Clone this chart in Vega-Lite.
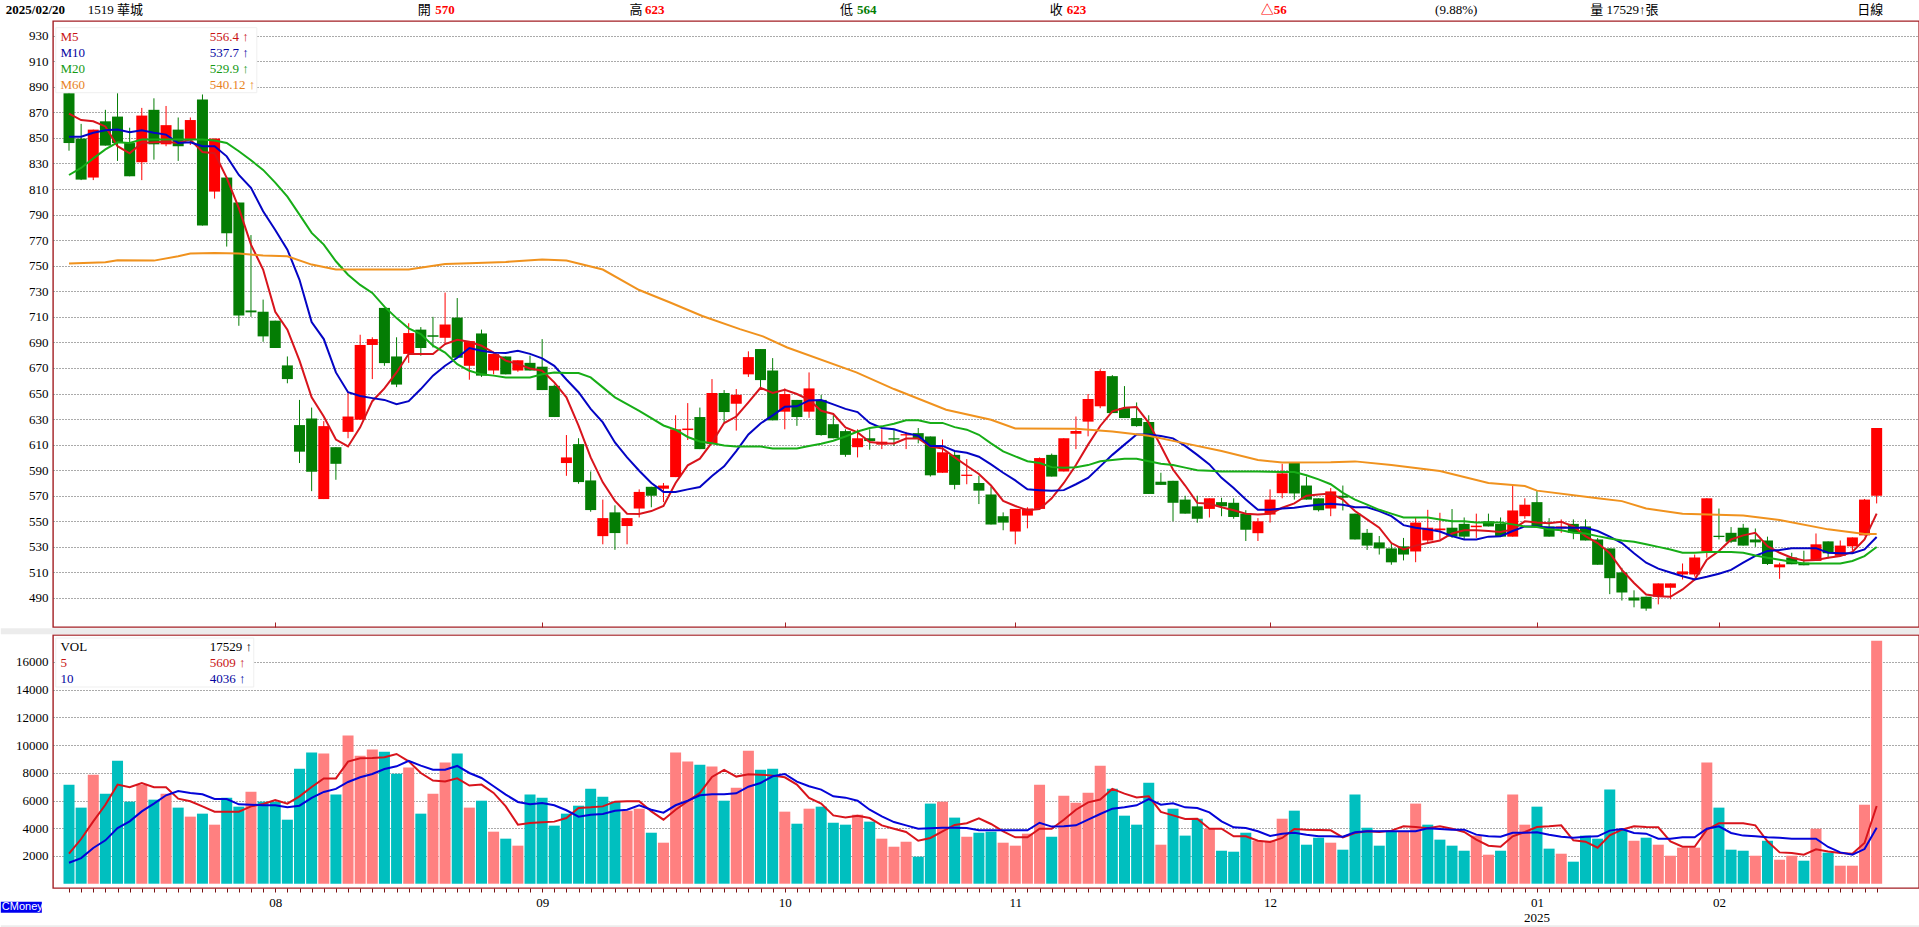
{"$schema":"https://vega.github.io/schema/vega-lite/v6.json","background":"white","padding":{"left":0,"top":3,"right":0,"bottom":0},"spacing":-2,"config":{"view":{"stroke":"#a31f24","strokeWidth":1.4},"font":"Liberation Serif, 'Noto Sans CJK TC'"},"resolve":{"scale":{"color":"independent","x":"independent","y":"independent"}},
"datasets":{
"candles":[
{"i":0,"dir":"down","open":885,"high":890,"low":840,"close":846,"m5":869,"m10":851,"m20":821},
{"i":1,"dir":"down","open":849.5,"high":861,"low":817,"close":817.4,"m5":864,"m10":851,"m20":826.5},
{"i":2,"dir":"up","open":819,"high":856.5,"low":817,"close":856.5,"m5":863,"m10":854,"m20":834},
{"i":3,"dir":"down","open":863,"high":872,"low":844,"close":844,"m5":859,"m10":856,"m20":841},
{"i":4,"dir":"down","open":866.7,"high":885,"low":832,"close":846,"m5":843.5,"m10":856.5,"m20":846.6},
{"i":5,"dir":"down","open":846,"high":858,"low":820,"close":820,"m5":838,"m10":854.4,"m20":846},
{"i":6,"dir":"up","open":831,"high":873.5,"low":817,"close":867.5,"m5":846,"m10":856,"m20":848.7},
{"i":7,"dir":"down","open":872,"high":881,"low":833,"close":845,"m5":846.6,"m10":854,"m20":848.7},
{"i":8,"dir":"up","open":845,"high":875,"low":843.5,"close":860,"m5":847,"m10":852.6,"m20":848.7},
{"i":9,"dir":"down","open":856.5,"high":866,"low":832,"close":843.5,"m5":846,"m10":846,"m20":848.7},
{"i":10,"dir":"up","open":849,"high":866,"low":844.5,"close":864,"m5":848.7,"m10":846.6,"m20":848.7},
{"i":11,"dir":"down","open":880,"high":884,"low":781.4,"close":781.4,"m5":839,"m10":843.5,"m20":848.7},
{"i":12,"dir":"up","open":808,"high":849.5,"low":802.5,"close":849.5,"m5":838,"m10":843.5,"m20":848},
{"i":13,"dir":"down","open":819,"high":819,"low":765,"close":775.4,"m5":818.7,"m10":835.6,"m20":846},
{"i":14,"dir":"down","open":799.4,"high":799.4,"low":703,"close":711,"m5":795,"m10":821,"m20":839.6},
{"i":15,"dir":"down","open":715,"high":774,"low":710,"close":713.5,"m5":766.5,"m10":811,"m20":832.5},
{"i":16,"dir":"down","open":714,"high":723.5,"low":690.5,"close":694.7,"m5":747,"m10":792.6,"m20":825},
{"i":17,"dir":"down","open":707,"high":707,"low":685.6,"close":685.6,"m5":714,"m10":778,"m20":815},
{"i":18,"dir":"down","open":672,"high":679,"low":658,"close":661.3,"m5":700,"m10":762.6,"m20":804},
{"i":19,"dir":"down","open":625.3,"high":645,"low":595.6,"close":604.5,"m5":675.7,"m10":739,"m20":790},
{"i":20,"dir":"down","open":630.5,"high":639,"low":573.6,"close":588.8,"m5":647,"m10":706,"m20":775.7},
{"i":21,"dir":"up","open":567.4,"high":628.4,"low":567.4,"close":624.5,"m5":632,"m10":692.6,"m20":766.5},
{"i":22,"dir":"down","open":608,"high":608,"low":582.5,"close":595,"m5":614,"m10":666.5,"m20":753.5},
{"i":23,"dir":"up","open":620,"high":651,"low":615,"close":632,"m5":608.6,"m10":651,"m20":743},
{"i":24,"dir":"up","open":629.5,"high":696,"low":629.5,"close":688,"m5":623.5,"m10":648,"m20":735},
{"i":25,"dir":"up","open":688,"high":694,"low":661.3,"close":692.6,"m5":644,"m10":646.4,"m20":728.7},
{"i":26,"dir":"down","open":717,"high":717,"low":671.7,"close":673.8,"m5":654,"m10":645,"m20":718},
{"i":27,"dir":"down","open":679,"high":694,"low":655,"close":657,"m5":666.5,"m10":641.7,"m20":709},
{"i":28,"dir":"up","open":681,"high":705,"low":674,"close":697.3,"m5":681,"m10":644,"m20":701},
{"i":29,"dir":"down","open":700,"high":702,"low":679.6,"close":685.6,"m5":681,"m10":653.5,"m20":696.5},
{"i":30,"dir":"down","open":695.6,"high":710,"low":686,"close":694.4,"m5":681,"m10":664,"m20":687.4},
{"i":31,"dir":"up","open":693.6,"high":729,"low":688,"close":704,"m5":688.7,"m10":671.7,"m20":682},
{"i":32,"dir":"down","open":709.4,"high":724.7,"low":678,"close":678,"m5":692,"m10":678,"m20":673},
{"i":33,"dir":"up","open":671.7,"high":691,"low":660.8,"close":691,"m5":690.5,"m10":685.6,"m20":667.8},
{"i":34,"dir":"down","open":697,"high":700,"low":663,"close":664,"m5":687.4,"m10":683.5,"m20":665},
{"i":35,"dir":"up","open":668,"high":681,"low":665,"close":681,"m5":682,"m10":682,"m20":664},
{"i":36,"dir":"down","open":679,"high":679,"low":665,"close":665,"m5":675.7,"m10":681.7,"m20":662.6},
{"i":37,"dir":"up","open":668,"high":676,"low":667,"close":676,"m5":673,"m10":683.5,"m20":662.6},
{"i":38,"dir":"down","open":674,"high":679.6,"low":668,"close":668,"m5":669.6,"m10":681,"m20":662.6},
{"i":39,"dir":"down","open":671,"high":692.6,"low":652.7,"close":652.7,"m5":667.8,"m10":677.5,"m20":665},
{"i":40,"dir":"down","open":656,"high":657,"low":631.6,"close":631.6,"m5":658.7,"m10":671.7,"m20":666.5},
{"i":41,"dir":"up","open":595.6,"high":617.5,"low":585.6,"close":600,"m5":647,"m10":661,"m20":666},
{"i":42,"dir":"down","open":610.4,"high":615,"low":579.4,"close":580.7,"m5":624.8,"m10":651,"m20":666},
{"i":43,"dir":"down","open":582,"high":589,"low":557.5,"close":558.8,"m5":600,"m10":638,"m20":662.6},
{"i":44,"dir":"up","open":538.4,"high":567,"low":532,"close":552.5,"m5":580.5,"m10":627.4,"m20":654.8},
{"i":45,"dir":"down","open":557,"high":562.5,"low":527.7,"close":540.8,"m5":566,"m10":611.7,"m20":647},
{"i":46,"dir":"up","open":546.3,"high":552.5,"low":532,"close":552.5,"m5":556,"m10":600,"m20":641.7},
{"i":47,"dir":"up","open":560,"high":575,"low":553,"close":573,"m5":555.7,"m10":589.6,"m20":636.5},
{"i":48,"dir":"down","open":577,"high":577,"low":561,"close":570,"m5":558,"m10":580,"m20":630.8},
{"i":49,"dir":"up","open":575.5,"high":580,"low":565,"close":578,"m5":562,"m10":573,"m20":625},
{"i":50,"dir":"up","open":584.6,"high":633,"low":584.6,"close":622,"m5":580,"m10":573,"m20":621.7},
{"i":51,"dir":"up","open":621.4,"high":642.5,"low":613.6,"close":622.6,"m5":593.8,"m10":575,"m20":616},
{"i":52,"dir":"down","open":631.6,"high":639,"low":606.5,"close":606.5,"m5":599,"m10":576.8,"m20":612.5},
{"i":53,"dir":"up","open":610.4,"high":661.3,"low":610.4,"close":650.4,"m5":611.7,"m10":585.4,"m20":611},
{"i":54,"dir":"down","open":650.4,"high":652.7,"low":627.4,"close":635.5,"m5":626.9,"m10":593,"m20":609.4},
{"i":55,"dir":"up","open":642,"high":653.5,"low":621,"close":649,"m5":632,"m10":605,"m20":608.6},
{"i":56,"dir":"up","open":665,"high":683,"low":663,"close":678.5,"m5":643,"m10":618,"m20":608.6},
{"i":57,"dir":"down","open":684.8,"high":684.8,"low":655,"close":660.5,"m5":654.5,"m10":626.6,"m20":608.6},
{"i":58,"dir":"down","open":668,"high":677.7,"low":629,"close":629,"m5":650.4,"m10":632.9,"m20":607},
{"i":59,"dir":"up","open":635.8,"high":654,"low":622,"close":649.6,"m5":653,"m10":639.6,"m20":607},
{"i":60,"dir":"down","open":645,"high":645,"low":624.7,"close":631.6,"m5":649.6,"m10":640,"m20":607},
{"i":61,"dir":"up","open":635.8,"high":666.5,"low":631,"close":654,"m5":645,"m10":644.6,"m20":609},
{"i":62,"dir":"down","open":645,"high":649,"low":617,"close":617.5,"m5":636.5,"m10":644.9,"m20":610.7},
{"i":63,"dir":"down","open":626,"high":633,"low":615,"close":615,"m5":634,"m10":641.5,"m20":613},
{"i":64,"dir":"down","open":620.6,"high":622,"low":600.5,"close":602,"m5":623.5,"m10":638,"m20":616.4},
{"i":65,"dir":"up","open":608,"high":622,"low":600,"close":615,"m5":619.6,"m10":635.5,"m20":620.3},
{"i":66,"dir":"down","open":615,"high":622,"low":606,"close":612.8,"m5":612,"m10":627,"m20":623},
{"i":67,"dir":"up","open":610,"high":622,"low":606.5,"close":612.3,"m5":611,"m10":623,"m20":624.3},
{"i":68,"dir":"down","open":615,"high":621.6,"low":609,"close":614,"m5":610.9,"m10":622,"m20":626.3},
{"i":69,"dir":"up","open":617.2,"high":620,"low":606.5,"close":618.2,"m5":614.8,"m10":619,"m20":629},
{"i":70,"dir":"down","open":619,"high":623,"low":611,"close":614.4,"m5":614.8,"m10":617,"m20":629},
{"i":71,"dir":"down","open":616.4,"high":616.4,"low":585,"close":586,"m5":608.6,"m10":609,"m20":627},
{"i":72,"dir":"up","open":588,"high":614,"low":588,"close":604,"m5":607,"m10":609,"m20":627},
{"i":73,"dir":"down","open":602,"high":605.5,"low":575,"close":578.5,"m5":600,"m10":605,"m20":623.7},
{"i":74,"dir":"up","open":585.5,"high":598.7,"low":579,"close":586.5,"m5":593.5,"m10":603.6,"m20":621.7},
{"i":75,"dir":"down","open":580,"high":585.6,"low":563.5,"close":574,"m5":587,"m10":600.5,"m20":617.7},
{"i":76,"dir":"down","open":571,"high":577,"low":547.5,"close":547.5,"m5":578,"m10":594.5,"m20":611},
{"i":77,"dir":"down","open":554,"high":557,"low":543,"close":549,"m5":566,"m10":588,"m20":604.7},
{"i":78,"dir":"up","open":542,"high":559.7,"low":532,"close":559.7,"m5":562,"m10":582,"m20":600.8},
{"i":79,"dir":"up","open":554.5,"high":561,"low":544.5,"close":560,"m5":558.7,"m10":575,"m20":597},
{"i":80,"dir":"up","open":559.7,"high":600,"low":559.7,"close":599.5,"m5":559.7,"m10":574.4,"m20":595.6},
{"i":81,"dir":"down","open":602,"high":603,"low":585,"close":585,"m5":568,"m10":574,"m20":592.4},
{"i":82,"dir":"up","open":589,"high":615,"low":589,"close":615,"m5":580,"m10":574.4,"m20":592},
{"i":83,"dir":"up","open":618.5,"high":632,"low":606.5,"close":620.6,"m5":594,"m10":579,"m20":592.4},
{"i":84,"dir":"up","open":628,"high":649.6,"low":616.5,"close":645.7,"m5":610,"m10":584,"m20":594},
{"i":85,"dir":"up","open":640,"high":669,"low":638.5,"close":667.6,"m5":624.6,"m10":593,"m20":597},
{"i":86,"dir":"down","open":663.6,"high":664.4,"low":634.7,"close":634.7,"m5":636,"m10":602,"m20":598},
{"i":87,"dir":"down","open":638.6,"high":655.8,"low":630.8,"close":630.8,"m5":638.9,"m10":610,"m20":599},
{"i":88,"dir":"down","open":630.8,"high":643,"low":624,"close":624.5,"m5":639.4,"m10":618,"m20":599},
{"i":89,"dir":"down","open":627.7,"high":633,"low":571.4,"close":571.4,"m5":627,"m10":618,"m20":597},
{"i":90,"dir":"down","open":581,"high":588,"low":578.5,"close":578.5,"m5":609,"m10":616.7,"m20":595},
{"i":91,"dir":"down","open":581.7,"high":581.7,"low":550,"close":564.5,"m5":590.5,"m10":614.9,"m20":594},
{"i":92,"dir":"down","open":567,"high":570,"low":556,"close":556,"m5":578,"m10":609,"m20":592},
{"i":93,"dir":"down","open":561.7,"high":570,"low":548.9,"close":552,"m5":564.4,"m10":602,"m20":590},
{"i":94,"dir":"up","open":559.7,"high":568,"low":553,"close":568,"m5":563.7,"m10":594.5,"m20":589.6},
{"i":95,"dir":"down","open":565,"high":568.4,"low":554,"close":561.7,"m5":561,"m10":584,"m20":589},
{"i":96,"dir":"down","open":564.5,"high":568,"low":552,"close":553.4,"m5":558.6,"m10":576,"m20":589},
{"i":97,"dir":"down","open":556,"high":558.7,"low":534.6,"close":543.4,"m5":556,"m10":567,"m20":589},
{"i":98,"dir":"up","open":540.7,"high":552.5,"low":534.6,"close":550,"m5":555.3,"m10":559,"m20":589},
{"i":99,"dir":"up","open":555.3,"high":575,"low":549,"close":567,"m5":556,"m10":559,"m20":588.8},
{"i":100,"dir":"up","open":572,"high":595,"low":568,"close":587.5,"m5":560.6,"m10":560,"m20":588.5},
{"i":101,"dir":"down","open":595.8,"high":595.8,"low":567,"close":571.8,"m5":564,"m10":560.6,"m20":588.5},
{"i":102,"dir":"down","open":578,"high":585,"low":567,"close":567,"m5":570,"m10":562,"m20":586},
{"i":103,"dir":"down","open":568,"high":568,"low":557.7,"close":558.7,"m5":571,"m10":563,"m20":582.8},
{"i":104,"dir":"up","open":560,"high":576,"low":554,"close":573.4,"m5":571.8,"m10":563.7,"m20":579},
{"i":105,"dir":"down","open":570,"high":578,"low":558.5,"close":568.5,"m5":567,"m10":563,"m20":572.3},
{"i":106,"dir":"down","open":556,"high":556,"low":535.8,"close":535.8,"m5":558,"m10":561,"m20":567},
{"i":107,"dir":"down","open":541,"high":544,"low":527.6,"close":531,"m5":551.5,"m10":561,"m20":563},
{"i":108,"dir":"down","open":533.5,"high":538.5,"low":524,"close":528.8,"m5":545,"m10":558,"m20":559},
{"i":109,"dir":"down","open":528.8,"high":533,"low":516,"close":517.9,"m5":533,"m10":554,"m20":556},
{"i":110,"dir":"down","open":530.4,"high":537,"low":519.4,"close":524,"m5":528,"m10":547,"m20":553},
{"i":111,"dir":"up","open":526.4,"high":553,"low":518,"close":549,"m5":531,"m10":545,"m20":553},
{"i":112,"dir":"up","open":535,"high":559,"low":533,"close":545,"m5":533,"m10":543.7,"m20":553},
{"i":113,"dir":"up","open":543,"high":556.7,"low":535.8,"close":544.4,"m5":535,"m10":542,"m20":551.5},
{"i":114,"dir":"down","open":545,"high":559.6,"low":537,"close":538,"m5":540.5,"m10":538.4,"m20":550},
{"i":115,"dir":"down","open":548,"high":553,"low":536,"close":538,"m5":543,"m10":535.8,"m20":550},
{"i":116,"dir":"up","open":545.4,"high":556,"low":537,"close":546.6,"m5":543,"m10":535.8,"m20":549},
{"i":117,"dir":"down","open":550,"high":556,"low":546,"close":546,"m5":542.4,"m10":538,"m20":549},
{"i":118,"dir":"down","open":548,"high":553,"low":538,"close":538,"m5":541.6,"m10":538.4,"m20":549},
{"i":119,"dir":"up","open":538,"high":577.6,"low":538,"close":558.5,"m5":543.7,"m10":542.4,"m20":547.6},
{"i":120,"dir":"up","open":554,"high":568,"low":552,"close":563,"m5":550,"m10":546,"m20":546},
{"i":121,"dir":"down","open":565,"high":574,"low":546,"close":546,"m5":549,"m10":546,"m20":545.5},
{"i":122,"dir":"down","open":546,"high":552.5,"low":538,"close":538,"m5":548.4,"m10":545,"m20":543.7},
{"i":123,"dir":"up","open":544.5,"high":551.5,"low":541,"close":546,"m5":549.7,"m10":545,"m20":543},
{"i":124,"dir":"down","open":548,"high":551.5,"low":536,"close":541,"m5":546,"m10":545,"m20":541},
{"i":125,"dir":"down","open":546,"high":551.5,"low":535,"close":535,"m5":538.4,"m10":545,"m20":540.5},
{"i":126,"dir":"down","open":535.8,"high":537,"low":516,"close":516,"m5":533,"m10":542.4,"m20":538.4},
{"i":127,"dir":"down","open":528.8,"high":528.8,"low":493,"close":505.5,"m5":525,"m10":538,"m20":536.6},
{"i":128,"dir":"down","open":510,"high":513.6,"low":488,"close":494.3,"m5":512,"m10":533,"m20":535},
{"i":129,"dir":"down","open":490.4,"high":496,"low":482.7,"close":488,"m5":501.7,"m10":525,"m20":534},
{"i":130,"dir":"down","open":491,"high":491,"low":480,"close":481.7,"m5":492.7,"m10":517.6,"m20":532},
{"i":131,"dir":"up","open":491,"high":501.4,"low":485,"close":501.4,"m5":491.4,"m10":513,"m20":530},
{"i":132,"dir":"up","open":498,"high":501.4,"low":489,"close":501.4,"m5":490.9,"m10":510,"m20":528},
{"i":133,"dir":"up","open":508.4,"high":517,"low":504.5,"close":510.8,"m5":496.7,"m10":507,"m20":525.4},
{"i":134,"dir":"up","open":508.4,"high":524,"low":506.8,"close":521.7,"m5":504.5,"m10":504.5,"m20":525.4},
{"i":135,"dir":"up","open":526.4,"high":568,"low":521.5,"close":568,"m5":520,"m10":506.6,"m20":526},
{"i":136,"dir":"down","open":538.7,"high":560,"low":535.8,"close":537.7,"m5":526.7,"m10":509,"m20":526},
{"i":137,"dir":"down","open":541,"high":545.5,"low":533,"close":534,"m5":535.8,"m10":512,"m20":526},
{"i":138,"dir":"down","open":545,"high":548,"low":531,"close":531,"m5":539,"m10":517.6,"m20":525.4},
{"i":139,"dir":"down","open":535.8,"high":544.4,"low":530,"close":533.5,"m5":541,"m10":523,"m20":523.3},
{"i":140,"dir":"down","open":535,"high":538,"low":515.8,"close":516.6,"m5":530.6,"m10":526.7,"m20":521.5},
{"i":141,"dir":"up","open":514,"high":517.6,"low":505,"close":516.3,"m5":525.4,"m10":527.5,"m20":520},
{"i":142,"dir":"down","open":521.7,"high":525.4,"low":516.4,"close":516.4,"m5":521.5,"m10":529,"m20":518.4},
{"i":143,"dir":"down","open":517.6,"high":527,"low":515.6,"close":515.6,"m5":519.4,"m10":529,"m20":517},
{"i":144,"dir":"up","open":519,"high":540.5,"low":519,"close":532,"m5":519.7,"m10":529,"m20":517},
{"i":145,"dir":"down","open":534.3,"high":534.3,"low":521,"close":525,"m5":521.5,"m10":525.4,"m20":517},
{"i":146,"dir":"up","open":523,"high":535,"low":523,"close":531,"m5":522.8,"m10":525,"m20":517},
{"i":147,"dir":"up","open":530.4,"high":537.4,"low":527,"close":537.4,"m5":526,"m10":525,"m20":519},
{"i":148,"dir":"up","open":539,"high":567.5,"low":539,"close":567,"m5":535.8,"m10":528,"m20":522.8},
{"i":149,"dir":"up","open":570,"high":623,"low":564,"close":623,"m5":556,"m10":537.7,"m20":529.9}
],
"m60":[{"i":0,"v":751.7},{"i":3,"v":752.7},{"i":4,"v":754.3},{"i":7,"v":754},{"i":9,"v":757.4},{"i":10,"v":759.5},{"i":12,"v":760},{"i":14,"v":759.5},{"i":16,"v":758},{"i":18,"v":757.4},{"i":20,"v":750.9},{"i":22,"v":747},{"i":28,"v":747},{"i":31,"v":751.4},{"i":33,"v":752},{"i":36,"v":753},{"i":39,"v":754.8},{"i":41,"v":754},{"i":44,"v":747},{"i":47,"v":731},{"i":49.6,"v":721},{"i":52.2,"v":710.7},{"i":55.3,"v":700.4},{"i":57.2,"v":694.7},{"i":59.2,"v":686},{"i":64.9,"v":666.5},{"i":68,"v":653.5},{"i":72.3,"v":637.3},{"i":76,"v":629.5},{"i":78,"v":622.7},{"i":83,"v":622.5},{"i":86,"v":620.3},{"i":89,"v":617},{"i":92,"v":611},{"i":95,"v":605},{"i":98,"v":598},{"i":100,"v":596},{"i":104,"v":596.3},{"i":106,"v":596.9},{"i":109,"v":594},{"i":113,"v":589.3},{"i":117,"v":580},{"i":120,"v":577.6},{"i":121,"v":574},{"i":126,"v":568},{"i":128,"v":565.8},{"i":130,"v":560},{"i":133,"v":556},{"i":138,"v":554.6},{"i":141,"v":551},{"i":145,"v":543.7},{"i":148,"v":540},{"i":149,"v":540.1}],
"volume":[
{"i":0,"dir":"down","vol":7150,"v5":2170,"v10":1515},{"i":1,"dir":"down","vol":5490,"v5":3225,"v10":1850},{"i":2,"dir":"up","vol":7870,"v5":4500,"v10":2575},{"i":3,"dir":"down","vol":6500,"v5":5700,"v10":3130},{"i":4,"dir":"down","vol":8880,"v5":7150,"v10":4020},{"i":5,"dir":"down","vol":5920,"v5":6960,"v10":4500},{"i":6,"dir":"up","vol":7150,"v5":7270,"v10":5220},{"i":7,"dir":"down","vol":6065,"v5":6960,"v10":5780},{"i":8,"dir":"up","vol":6500,"v5":6960,"v10":6380},{"i":9,"dir":"down","vol":5490,"v5":6140,"v10":6690},
{"i":10,"dir":"up","vol":4840,"v5":5950,"v10":6550},{"i":11,"dir":"down","vol":5055,"v5":5580,"v10":6450},{"i":12,"dir":"up","vol":4260,"v5":5200,"v10":6110},{"i":13,"dir":"down","vol":6210,"v5":5200,"v10":6110},{"i":14,"dir":"down","vol":5560,"v5":5200,"v10":5730},{"i":15,"dir":"up","vol":6640,"v5":5580,"v10":5700},{"i":16,"dir":"down","vol":5920,"v5":5750,"v10":5660},{"i":17,"dir":"down","vol":5920,"v5":6040,"v10":5660},{"i":18,"dir":"down","vol":4620,"v5":5780,"v10":5510},{"i":19,"dir":"down","vol":8300,"v5":6300,"v10":5630},
{"i":20,"dir":"down","vol":9460,"v5":6980,"v10":6190},{"i":21,"dir":"up","vol":9390,"v5":7600,"v10":6620},{"i":22,"dir":"down","vol":6430,"v5":7600,"v10":6840},{"i":23,"dir":"up","vol":10690,"v5":8810,"v10":7340},{"i":24,"dir":"up","vol":9240,"v5":9050,"v10":7680},{"i":25,"dir":"up","vol":9680,"v5":9070,"v10":7920},{"i":26,"dir":"down","vol":9530,"v5":9120,"v10":8280},{"i":27,"dir":"down","vol":7940,"v5":9360,"v10":8470},{"i":28,"dir":"up","vol":8380,"v5":8830,"v10":8860},{"i":29,"dir":"down","vol":5055,"v5":7990,"v10":8520},
{"i":30,"dir":"up","vol":6500,"v5":7440,"v10":8230},{"i":31,"dir":"up","vol":8740,"v5":7370,"v10":8230},{"i":32,"dir":"down","vol":9390,"v5":7600,"v10":8500},{"i":33,"dir":"up","vol":5490,"v5":7080,"v10":7990},{"i":34,"dir":"down","vol":5990,"v5":7150,"v10":7630},{"i":35,"dir":"up","vol":3755,"v5":6550,"v10":7030},{"i":36,"dir":"down","vol":3250,"v5":5580,"v10":6430},{"i":37,"dir":"up","vol":2745,"v5":4260,"v10":5900},{"i":38,"dir":"down","vol":6430,"v5":4380,"v10":5730},{"i":39,"dir":"down","vol":6210,"v5":4430,"v10":5820},
{"i":40,"dir":"down","vol":4190,"v5":4480,"v10":5660},{"i":41,"dir":"down","vol":5055,"v5":4740,"v10":5300},{"i":42,"dir":"down","vol":5630,"v5":5460,"v10":4840},{"i":43,"dir":"down","vol":6860,"v5":5510,"v10":4980},{"i":44,"dir":"down","vol":6280,"v5":5580,"v10":5030},{"i":45,"dir":"down","vol":5920,"v5":5920,"v10":5270},{"i":46,"dir":"up","vol":5270,"v5":5950,"v10":5340},{"i":47,"dir":"up","vol":5415,"v5":5950,"v10":5660},{"i":48,"dir":"down","vol":3680,"v5":5220,"v10":5340},{"i":49,"dir":"up","vol":2960,"v5":4620,"v10":5130},
{"i":50,"dir":"up","vol":9460,"v5":5340,"v10":5660},{"i":51,"dir":"up","vol":8810,"v5":5950,"v10":5990},{"i":52,"dir":"down","vol":8590,"v5":6550,"v10":6380},{"i":53,"dir":"up","vol":8450,"v5":7700,"v10":6450},{"i":54,"dir":"down","vol":5990,"v5":8210,"v10":6450},{"i":55,"dir":"up","vol":6930,"v5":7730,"v10":6520},{"i":56,"dir":"up","vol":9600,"v5":7900,"v10":7000},{"i":57,"dir":"down","vol":8230,"v5":7870,"v10":7270},{"i":58,"dir":"down","vol":8300,"v5":7800,"v10":7750},{"i":59,"dir":"up","vol":5200,"v5":7680,"v10":7920},
{"i":60,"dir":"down","vol":4330,"v5":7150,"v10":7370},{"i":61,"dir":"up","vol":5415,"v5":6190,"v10":7030},{"i":62,"dir":"down","vol":5560,"v5":5780,"v10":6790},{"i":63,"dir":"down","vol":4400,"v5":4930,"v10":6310},{"i":64,"dir":"down","vol":4260,"v5":4770,"v10":6210},{"i":65,"dir":"up","vol":4980,"v5":4910,"v10":5990},{"i":66,"dir":"down","vol":4480,"v5":4740,"v10":5340},{"i":67,"dir":"up","vol":3250,"v5":4210,"v10":4860},{"i":68,"dir":"up","vol":2670,"v5":3970,"v10":4450},{"i":69,"dir":"up","vol":3030,"v5":3730,"v10":4210},
{"i":70,"dir":"down","vol":1950,"v5":3100,"v10":3970},{"i":71,"dir":"down","vol":5780,"v5":3300,"v10":4000},{"i":72,"dir":"up","vol":5920,"v5":3780,"v10":4040},{"i":73,"dir":"down","vol":4770,"v5":4240,"v10":4040},{"i":74,"dir":"up","vol":3390,"v5":4360,"v10":4020},{"i":75,"dir":"down","vol":3680,"v5":4720,"v10":3850},{"i":76,"dir":"down","vol":3755,"v5":4310,"v10":3850},{"i":77,"dir":"up","vol":2960,"v5":3780,"v10":3850},{"i":78,"dir":"up","vol":2745,"v5":3350,"v10":3850},{"i":79,"dir":"up","vol":3610,"v5":3350,"v10":3850},
{"i":80,"dir":"up","vol":7150,"v5":3970,"v10":4400},{"i":81,"dir":"down","vol":3390,"v5":3970,"v10":4120},{"i":82,"dir":"up","vol":6350,"v5":4620,"v10":4140},{"i":83,"dir":"up","vol":5850,"v5":5340,"v10":4210},{"i":84,"dir":"up","vol":6570,"v5":5870,"v10":4620},{"i":85,"dir":"up","vol":8520,"v5":6070,"v10":5030},{"i":86,"dir":"down","vol":6860,"v5":6840,"v10":5415},{"i":87,"dir":"down","vol":4910,"v5":6500,"v10":5510},{"i":88,"dir":"down","vol":4260,"v5":6230,"v10":5660},{"i":89,"dir":"down","vol":7290,"v5":6310,"v10":6110},
{"i":90,"dir":"up","vol":2815,"v5":5180,"v10":5700},{"i":91,"dir":"down","vol":5415,"v5":4930,"v10":5800},{"i":92,"dir":"down","vol":3470,"v5":4670,"v10":5510},{"i":93,"dir":"down","vol":4690,"v5":4690,"v10":5460},{"i":94,"dir":"up","vol":3970,"v5":3970,"v10":5150},{"i":95,"dir":"down","vol":2380,"v5":3970,"v10":4500},{"i":96,"dir":"down","vol":2310,"v5":3420,"v10":4070},{"i":97,"dir":"down","vol":3680,"v5":3420,"v10":4020},{"i":98,"dir":"up","vol":3100,"v5":3100,"v10":3780},{"i":99,"dir":"up","vol":3100,"v5":3010,"v10":3440},
{"i":100,"dir":"up","vol":4690,"v5":3300,"v10":3610},{"i":101,"dir":"down","vol":5270,"v5":3950,"v10":3680},{"i":102,"dir":"down","vol":2815,"v5":3900,"v10":3540},{"i":103,"dir":"down","vol":3320,"v5":3880,"v10":3420},{"i":104,"dir":"up","vol":2960,"v5":3850,"v10":3420},{"i":105,"dir":"down","vol":2455,"v5":3350,"v10":3390},{"i":106,"dir":"down","vol":6430,"v5":3660,"v10":3710},{"i":107,"dir":"down","vol":4040,"v5":3780,"v10":3780},{"i":108,"dir":"down","vol":2745,"v5":3730,"v10":3780},{"i":109,"dir":"down","vol":3755,"v5":3830,"v10":3780},
{"i":110,"dir":"up","vol":3755,"v5":4140,"v10":3780},{"i":111,"dir":"up","vol":5780,"v5":4090,"v10":3780},{"i":112,"dir":"down","vol":4260,"v5":4000,"v10":4000},{"i":113,"dir":"down","vol":3180,"v5":4140,"v10":3950},{"i":114,"dir":"down","vol":2745,"v5":3970,"v10":3900},{"i":115,"dir":"down","vol":2380,"v5":3730,"v10":3900},{"i":116,"dir":"up","vol":3470,"v5":3180,"v10":3540},{"i":117,"dir":"up","vol":2095,"v5":2745,"v10":3420},{"i":118,"dir":"down","vol":2380,"v5":2670,"v10":3390},{"i":119,"dir":"up","vol":6430,"v5":3420,"v10":3680},
{"i":120,"dir":"up","vol":4260,"v5":3730,"v10":3680},{"i":121,"dir":"down","vol":5560,"v5":4090,"v10":3710},{"i":122,"dir":"down","vol":2530,"v5":4140,"v10":3540},{"i":123,"dir":"up","vol":2165,"v5":4210,"v10":3390},{"i":124,"dir":"down","vol":1590,"v5":3130,"v10":3320},{"i":125,"dir":"down","vol":3470,"v5":3030,"v10":3390},{"i":126,"dir":"down","vol":3250,"v5":2600,"v10":3420},{"i":127,"dir":"down","vol":6790,"v5":3490,"v10":3830},{"i":128,"dir":"down","vol":3900,"v5":3900,"v10":3950},{"i":129,"dir":"up","vol":3100,"v5":4140,"v10":3660},
{"i":130,"dir":"down","vol":3320,"v5":4090,"v10":3610},{"i":131,"dir":"up","vol":2815,"v5":4070,"v10":3250},{"i":132,"dir":"up","vol":2020,"v5":3060,"v10":3250},{"i":133,"dir":"up","vol":2600,"v5":2670,"v10":3350},{"i":134,"dir":"up","vol":2600,"v5":2670,"v10":3350},{"i":135,"dir":"up","vol":8740,"v5":3900,"v10":3970},{"i":136,"dir":"down","vol":5490,"v5":4360,"v10":4140},{"i":137,"dir":"down","vol":2455,"v5":4360,"v10":3660},{"i":138,"dir":"down","vol":2380,"v5":4360,"v10":3470},{"i":139,"dir":"up","vol":2020,"v5":4210,"v10":3420},
{"i":140,"dir":"down","vol":3100,"v5":3060,"v10":3350},{"i":141,"dir":"up","vol":1730,"v5":2260,"v10":3320},{"i":142,"dir":"up","vol":2020,"v5":2210,"v10":3250},{"i":143,"dir":"down","vol":1660,"v5":2090,"v10":3250},{"i":144,"dir":"up","vol":3970,"v5":2480,"v10":3250},{"i":145,"dir":"down","vol":2240,"v5":2330,"v10":2650},{"i":146,"dir":"up","vol":1300,"v5":2210,"v10":2260},{"i":147,"dir":"up","vol":1300,"v5":2165,"v10":2090},{"i":148,"dir":"up","vol":5700,"v5":2940,"v10":2500},{"i":149,"dir":"up","vol":17529,"v5":5609,"v10":4036}
]},
"vconcat":[
{"width":1866,"height":606,
"encoding":{"x":{"field":"i","type":"quantitative","title":null,"scale":{"domain":[-1.319,152.49],"nice":false,"zero":false,"padding":0},"axis":{"values":[17,39,59,78,99,121,136],"tickCount":200,"labels":false,"domain":false,"grid":false,"tickSize":-5,"tickColor":"#a31f24","title":null}}},
"layer":[
{"data":{"name":"candles"},"mark":{"type":"rule","strokeWidth":1},"encoding":{"y":{"field":"low","type":"quantitative","title":null,"scale":{"domain":[467.3,941.5],"nice":false,"zero":false},"axis":{"values":[490,510,530,550,570,590,610,630,650,670,690,710,730,750,770,790,810,830,850,870,890,910,930],"tickCount":200,"ticks":false,"domain":false,"grid":true,"gridColor":"#555555","gridDash":[1,2],"gridOpacity":1,"labelFontSize":13,"labelColor":"#000000","labelPadding":5,"labelOverlap":false,"labelFlush":false,"minExtent":52,"maxExtent":52,"title":null}},"y2":{"field":"high"},"color":{"field":"dir","type":"nominal","legend":null,"scale":{"domain":["up","down","plain","m5","m10","m20","m60"],"range":["#ff0000","#047d04","#000000","#c81414","#0404a0","#149a14","#e8831e"]}}}},
{"data":{"name":"candles"},"mark":{"type":"bar","size":11},"encoding":{"y":{"field":"open","type":"quantitative","title":null,"scale":{"domain":[467.3,941.5],"nice":false,"zero":false}},"y2":{"field":"close"},"color":{"field":"dir","type":"nominal","legend":null,"scale":{"domain":["up","down","plain","m5","m10","m20","m60"],"range":["#ff0000","#047d04","#000000","#c81414","#0404a0","#149a14","#e8831e"]}}}},
{"data":{"name":"candles"},"mark":{"type":"line","color":"#d8141c","strokeWidth":2},"encoding":{"y":{"field":"m5","type":"quantitative","title":null,"scale":{"domain":[467.3,941.5],"nice":false,"zero":false}}}},
{"data":{"name":"candles"},"mark":{"type":"line","color":"#0404c4","strokeWidth":2},"encoding":{"y":{"field":"m10","type":"quantitative","title":null,"scale":{"domain":[467.3,941.5],"nice":false,"zero":false}}}},
{"data":{"name":"candles"},"mark":{"type":"line","color":"#17ad17","strokeWidth":2},"encoding":{"y":{"field":"m20","type":"quantitative","title":null,"scale":{"domain":[467.3,941.5],"nice":false,"zero":false}}}},
{"data":{"name":"m60"},"mark":{"type":"line","color":"#f0921e","strokeWidth":2},"encoding":{"y":{"field":"v","type":"quantitative","title":null,"scale":{"domain":[467.3,941.5],"nice":false,"zero":false}}}},
{"data":{"values":[{"i":-1.09,"i2":15.48,"top":936.3,"bottom":885.4}]},"mark":{"type":"rect","fill":"#ffffff","stroke":"#efefef"},"encoding":{"x2":{"field":"i2"},"y":{"field":"top","type":"quantitative","title":null,"scale":{"domain":[467.3,941.5],"nice":false,"zero":false}},"y2":{"field":"bottom"}}},
{"data":{"values":[{"i":-0.71,"at":929.2,"label":"M5","tone":"m5"},{"i":-0.71,"at":916.7,"label":"M10","tone":"m10"},{"i":-0.71,"at":904.2,"label":"M20","tone":"m20"},{"i":-0.71,"at":891.6,"label":"M60","tone":"m60"},{"i":11.6,"at":929.2,"label":"556.4 ↑","tone":"m5"},{"i":11.6,"at":916.7,"label":"537.7 ↑","tone":"m10"},{"i":11.6,"at":904.2,"label":"529.9 ↑","tone":"m20"},{"i":11.6,"at":891.6,"label":"540.12 ↑","tone":"m60"}]},"mark":{"type":"text","align":"left","baseline":"middle","fontSize":13},"encoding":{"y":{"field":"at","type":"quantitative","title":null,"scale":{"domain":[467.3,941.5],"nice":false,"zero":false}},"text":{"field":"label"},"color":{"field":"tone","type":"nominal","legend":null,"scale":{"domain":["up","down","plain","m5","m10","m20","m60"],"range":["#ff0000","#047d04","#000000","#c81414","#0404a0","#149a14","#e8831e"]}}}},
{"data":{"values":[{"i":1.55,"at":950.3,"label":"1519 華城"},{"i":28.75,"at":950.3,"label":"開"},{"i":46.2,"at":950.3,"label":"高"},{"i":63.55,"at":950.3,"label":"低"},{"i":80.85,"at":950.3,"label":"收"},{"i":112.6,"at":950.3,"label":"(9.88%)"},{"i":125.4,"at":950.3,"label":"量 17529↑張"},{"i":147.4,"at":950.3,"label":"日線"}]},"mark":{"type":"text","align":"left","baseline":"middle","fontSize":13,"color":"#000000"},"encoding":{"y":{"field":"at","type":"quantitative","title":null,"scale":{"domain":[467.3,941.5],"nice":false,"zero":false}},"text":{"field":"label"}}},
{"data":{"values":[{"i":-5.21,"at":950.3,"label":"2025/02/20","tone":"plain"},{"i":30.18,"at":950.3,"label":"570","tone":"up"},{"i":47.47,"at":950.3,"label":"623","tone":"up"},{"i":64.95,"at":950.3,"label":"564","tone":"down"},{"i":82.25,"at":950.3,"label":"623","tone":"up"},{"i":98.24,"at":950.3,"label":"△56","tone":"up"}]},"mark":{"type":"text","align":"left","baseline":"middle","fontSize":13,"fontWeight":"bold"},"encoding":{"y":{"field":"at","type":"quantitative","title":null,"scale":{"domain":[467.3,941.5],"nice":false,"zero":false}},"text":{"field":"label"},"color":{"field":"tone","type":"nominal","legend":null,"scale":{"domain":["up","down","plain","m5","m10","m20","m60"],"range":["#ff0000","#047d04","#000000","#c81414","#0404a0","#149a14","#e8831e"]}}}}
]},
{"width":1866,"height":253,
"encoding":{"x":{"field":"i","type":"quantitative","title":null,"scale":{"domain":[-1.319,152.49],"nice":false,"zero":false,"padding":0},"axis":{"values":[0,1,2,3,4,5,6,7,8,9,10,11,12,13,14,15,16,17,18,19,20,21,22,23,24,25,26,27,28,29,30,31,32,33,34,35,36,37,38,39,40,41,42,43,44,45,46,47,48,49,50,51,52,53,54,55,56,57,58,59,60,61,62,63,64,65,66,67,68,69,70,71,72,73,74,75,76,77,78,79,80,81,82,83,84,85,86,87,88,89,90,91,92,93,94,95,96,97,98,99,100,101,102,103,104,105,106,107,108,109,110,111,112,113,114,115,116,117,118,119,120,121,122,123,124,125,126,127,128,129,130,131,132,133,134,135,136,137,138,139,140,141,142,143,144,145,146,147,148,149],"tickCount":400,"labelExpr":"datum.value==17?'08':datum.value==39?'09':datum.value==59?'10':datum.value==78?'11':datum.value==99?'12':datum.value==121?'01':datum.value==136?'02':''","labelOverlap":false,"labelFlush":false,"labelFontSize":13,"labelColor":"#000000","labelPadding":4,"domain":false,"grid":false,"tickSize":4,"tickColor":"#7a1010","title":null}}},
"layer":[
{"data":{"name":"volume"},"mark":{"type":"bar","size":11},"encoding":{"y":{"field":"vol","type":"quantitative","title":null,"scale":{"domain":[-310,17948],"nice":false,"zero":false},"axis":{"values":[2000,4000,6000,8000,10000,12000,14000,16000],"tickCount":200,"format":"d","ticks":false,"domain":false,"grid":true,"gridColor":"#555555","gridDash":[1,2],"gridOpacity":1,"labelFontSize":13,"labelColor":"#000000","labelPadding":5,"labelOverlap":false,"labelFlush":false,"minExtent":52,"maxExtent":52,"title":null}},"color":{"field":"dir","type":"nominal","legend":null,"scale":{"domain":["up","down","plain","v5","v10"],"range":["#ff8080","#00bfbf","#000000","#c81414","#0404a0"]}}}},
{"data":{"name":"volume"},"mark":{"type":"line","color":"#d8141c","strokeWidth":2},"encoding":{"y":{"field":"v5","type":"quantitative","title":null,"scale":{"domain":[-310,17948],"nice":false,"zero":false}}}},
{"data":{"name":"volume"},"mark":{"type":"line","color":"#0404d8","strokeWidth":2},"encoding":{"y":{"field":"v10","type":"quantitative","title":null,"scale":{"domain":[-310,17948],"nice":false,"zero":false}}}},
{"data":{"values":[{"i":-1.09,"i2":15.23,"top":17730,"bottom":14195}]},"mark":{"type":"rect","fill":"#ffffff","stroke":"#efefef"},"encoding":{"x2":{"field":"i2"},"y":{"field":"top","type":"quantitative","title":null,"scale":{"domain":[-310,17948],"nice":false,"zero":false}},"y2":{"field":"bottom"}}},
{"data":{"values":[{"i":-0.71,"at":17080,"label":"VOL","tone":"plain"},{"i":-0.71,"at":15930,"label":"5","tone":"v5"},{"i":-0.71,"at":14770,"label":"10","tone":"v10"},{"i":11.6,"at":17080,"label":"17529 ↑","tone":"plain"},{"i":11.6,"at":15930,"label":"5609 ↑","tone":"v5"},{"i":11.6,"at":14770,"label":"4036 ↑","tone":"v10"}]},"mark":{"type":"text","align":"left","baseline":"middle","fontSize":13},"encoding":{"y":{"field":"at","type":"quantitative","title":null,"scale":{"domain":[-310,17948],"nice":false,"zero":false}},"text":{"field":"label"},"color":{"field":"tone","type":"nominal","legend":null,"scale":{"domain":["up","down","plain","v5","v10"],"range":["#ff8080","#00bfbf","#000000","#c81414","#0404a0"]}}}},
{"data":{"values":[{"i":-5.62,"i2":152.57,"top":18438,"bottom":18005},{"i":-5.62,"i2":152.57,"top":-2995,"bottom":-3130}]},"mark":{"type":"rect","fill":"#ececec"},"encoding":{"x2":{"field":"i2"},"y":{"field":"top","type":"quantitative","title":null,"scale":{"domain":[-310,17948],"nice":false,"zero":false}},"y2":{"field":"bottom"}}},
{"data":{"values":[{"i":-5.62,"i2":-2.24,"top":-1299,"bottom":-2093}]},"mark":{"type":"rect","fill":"#0000f0"},"encoding":{"x2":{"field":"i2"},"y":{"field":"top","type":"quantitative","title":null,"scale":{"domain":[-310,17948],"nice":false,"zero":false}},"y2":{"field":"bottom"}}},
{"data":{"values":[{"i":-5.54,"at":-1700,"label":"CMoney"}]},"mark":{"type":"text","align":"left","baseline":"middle","fontSize":11,"font":"Liberation Sans","color":"#ffffff"},"encoding":{"y":{"field":"at","type":"quantitative","title":null,"scale":{"domain":[-310,17948],"nice":false,"zero":false}},"text":{"field":"label"}}},
{"data":{"values":[{"i":121,"at":-2500,"label":"2025"}]},"mark":{"type":"text","align":"center","baseline":"middle","fontSize":13,"color":"#000000"},"encoding":{"y":{"field":"at","type":"quantitative","title":null,"scale":{"domain":[-310,17948],"nice":false,"zero":false}},"text":{"field":"label"}}}
]}
]}
